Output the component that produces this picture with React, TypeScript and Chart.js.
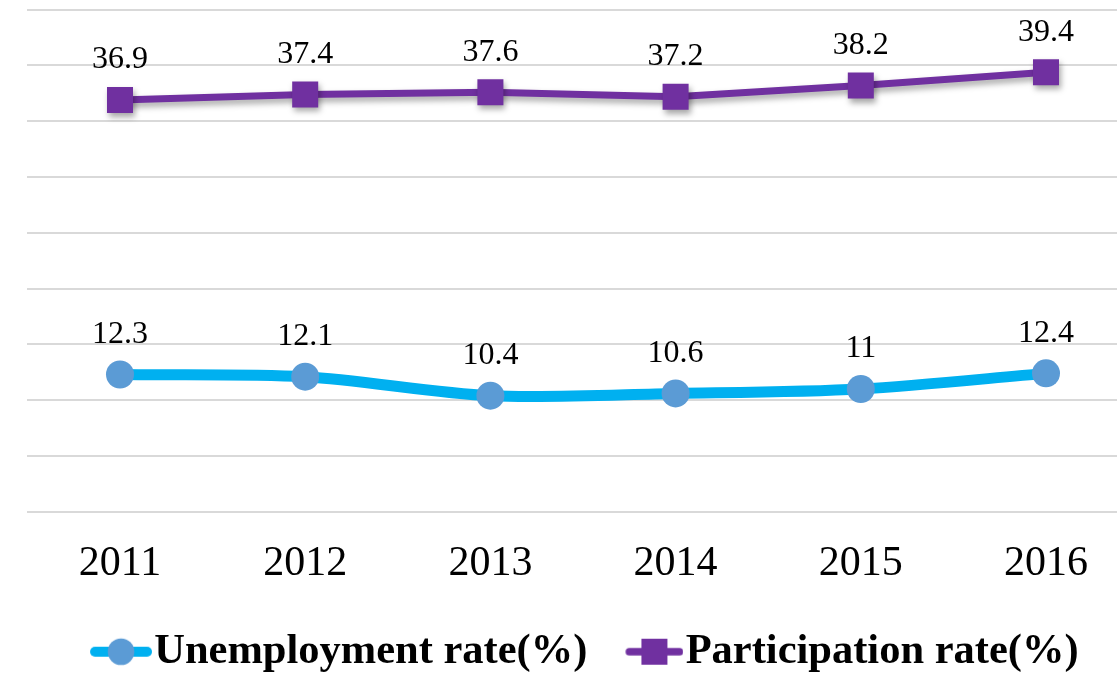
import React, { useEffect, useRef } from "react";
import { Chart, registerables } from "chart.js";

Chart.register(...registerables);

const categories = ["2011", "2012", "2013", "2014", "2015", "2016"];
const unemploymentRate = [12.3, 12.1, 10.4, 10.6, 11, 12.4];
const participationRate = [36.9, 37.4, 37.6, 37.2, 38.2, 39.4];
const seriesNames = ["Unemployment rate(%)", "Participation rate(%)"];
const yTicks = { min: 0, max: 45, step: 5 };

const FONT = '"Liberation Serif", "Times New Roman", serif';
const CYAN = "#00B0F0";
const BLUE_DOT = "#5B9BD5";
const PURPLE = "#7030A0";

const CW = 1154;
const CH = 683;
const LEGEND_PAD = 14.1;
const BOX_W = 77 - LEGEND_PAD;
const IMG_W = Math.round(BOX_W + 38);
const PAD_LEFT = 10.1;

function makeLegendImage(kind: "circle" | "square"): HTMLCanvasElement {
  const c = document.createElement("canvas");
  c.width = IMG_W;
  c.height = 32;
  const g = c.getContext("2d")!;
  const cy = 16;
  g.lineCap = "round";
  if (kind === "circle") {
    const w = 62;
    const x0 = IMG_W - w;
    g.strokeStyle = CYAN;
    g.lineWidth = 10;
    g.beginPath();
    g.moveTo(x0 + 5, cy);
    g.lineTo(IMG_W - 5, cy);
    g.stroke();
    g.fillStyle = BLUE_DOT;
    g.beginPath();
    g.arc(IMG_W - w / 2, cy, 13.3, 0, Math.PI * 2);
    g.fill();
  } else {
    const w = 58;
    const x0 = IMG_W - w;
    g.strokeStyle = PURPLE;
    g.lineWidth = 7.7;
    g.beginPath();
    g.moveTo(x0 + 4, cy);
    g.lineTo(IMG_W - 4, cy);
    g.stroke();
    g.fillStyle = PURPLE;
    g.fillRect(IMG_W - w / 2 - 13, cy - 13, 26, 26);
  }
  return c;
}

const shadowPlugin = {
  id: "shadowPlugin",
  beforeDatasetDraw(chart: any, args: any) {
    if (args.index === 1) {
      const ctx = chart.ctx;
      ctx.save();
      ctx.shadowColor = "rgba(0,0,0,0.35)";
      ctx.shadowBlur = 6;
      ctx.shadowOffsetX = 2;
      ctx.shadowOffsetY = 4;
    }
  },
  afterDatasetDraw(chart: any, args: any) {
    if (args.index === 1) {
      chart.ctx.restore();
    }
  },
};

const dataLabelPlugin = {
  id: "dataLabelPlugin",
  afterDatasetsDraw(chart: any) {
    const ctx = chart.ctx;
    ctx.save();
    ctx.font = `32px ${FONT}`;
    ctx.fillStyle = "#000";
    ctx.textAlign = "center";
    ctx.textBaseline = "middle";
    chart.data.datasets.forEach((ds: any, i: number) => {
      const meta = chart.getDatasetMeta(i);
      meta.data.forEach((pt: any, j: number) => {
        ctx.fillText(String(ds.data[j]), pt.x, pt.y - 40);
      });
    });
    ctx.restore();
  },
};

export default function App() {
  const ref = useRef<HTMLCanvasElement | null>(null);

  useEffect(() => {
    if (!ref.current) return;
    const images = [makeLegendImage("circle"), makeLegendImage("square")];
    const chart = new Chart(ref.current, {
      type: "line",
      data: {
        labels: categories,
        datasets: [
          {
            label: seriesNames[0],
            data: unemploymentRate,
            borderColor: CYAN,
            backgroundColor: BLUE_DOT,
            borderWidth: 11,
            tension: 0.3,
            pointStyle: "circle",
            pointRadius: 14,
            pointBorderWidth: 0,
            pointBackgroundColor: BLUE_DOT,
            fill: false,
          },
          {
            label: seriesNames[1],
            data: participationRate,
            borderColor: PURPLE,
            backgroundColor: PURPLE,
            borderWidth: 7,
            tension: 0,
            pointStyle: "rect",
            pointRadius: 18.4,
            pointBorderWidth: 0,
            pointBackgroundColor: PURPLE,
            fill: false,
          },
        ],
      },
      options: {
        responsive: false,
        animation: false,
        devicePixelRatio: 1,
        layout: {
          autoPadding: false,
          padding: { left: PAD_LEFT, right: CW - 1138.6, top: 9.7, bottom: 0 },
        },
        scales: {
          x: {
            offset: true,
            grid: { display: false, drawTicks: false },
            border: { display: false },
            ticks: {
              color: "#000",
              padding: 8,
              font: { family: FONT, size: 42, lineHeight: 2.112 },
            },
          },
          y: {
            min: yTicks.min,
            max: yTicks.max,
            grid: { color: "#d9d9d9", lineWidth: 2, drawTicks: false },
            border: { display: false },
            ticks: { display: false, stepSize: yTicks.step },
            afterFit: (scale: any) => {
              scale.width = 27.4 - PAD_LEFT;
            },
          },
        },
        plugins: {
          title: { display: false },
          tooltip: { enabled: false },
          legend: {
            display: true,
            position: "bottom",
            labels: {
              usePointStyle: true,
              pointStyleWidth: BOX_W,
              padding: LEGEND_PAD,
              color: "#000",
              font: { family: FONT, size: 42.5, weight: "bold" },
              generateLabels: (ch: any) => {
                const items = Chart.defaults.plugins.legend.labels.generateLabels(ch);
                return items.map((it: any, i: number) => ({ ...it, pointStyle: images[i] }));
              },
            },
          },
        },
      },
      plugins: [shadowPlugin, dataLabelPlugin],
    });
    return () => chart.destroy();
  }, []);

  return (
    <div
      style={{
        position: "fixed",
        top: 0,
        left: 0,
        width: 1117,
        height: 673,
        overflow: "hidden",
        background: "#fff",
      }}
    >
      <canvas ref={ref} width={CW} height={CH} style={{ width: CW, height: CH, display: "block" }} />
    </div>
  );
}
